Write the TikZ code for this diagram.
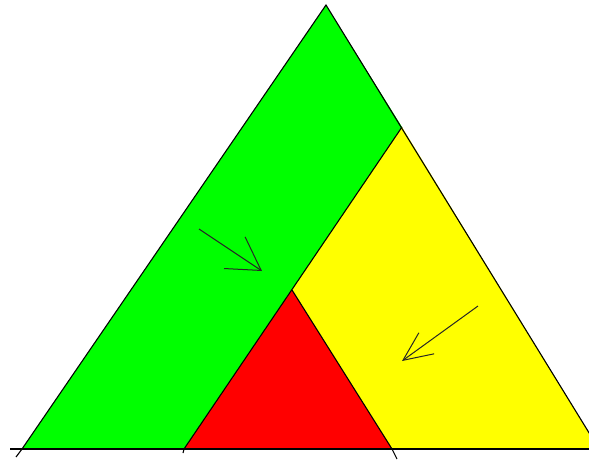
\documentclass[tikz,border=0pt]{standalone}
\usetikzlibrary{arrows.meta}
\definecolor{stripgreen}{RGB}{0,255,0}
\definecolor{stripyellow}{RGB}{255,255,0}
\definecolor{cornerred}{RGB}{255,0,0}
\tikzset{
 edge/.style={draw=black,line width=1.1pt},
 pointer/.style={draw=black!85,line width=1pt},
 bigtip/.style={-{Straight Barb[length=32pt,width=38pt]}},
 smalltip/.style={-{Straight Barb[length=29pt,width=26pt]}}}
\begin{document}
\begin{tikzpicture}[x=1pt,y=-1pt]
\useasboundingbox (0,0) rectangle (589,459);
\clip (0,0) rectangle (589,459);
% corners of the big triangle and the cuts
\coordinate (apex) at (326,5);
\coordinate (left) at (22,449);
\coordinate (right) at (599,449);
\coordinate (cut) at (402,127);
\coordinate (mid) at (184,449);
\coordinate (top) at (292,290);
\coordinate (foot) at (392,449);
% regions
\fill[stripgreen] (apex) -- (left) -- (mid) -- (top) -- (cut) -- cycle;
\fill[stripyellow] (cut) -- (right) -- (foot) -- (top) -- cycle;
\fill[cornerred] (top) -- (mid) -- (foot) -- cycle;
% outlines
\draw[edge] (left) -- (apex) -- (right);
\draw[edge] (cut) -- (mid);
\draw[edge] (top) -- (foot);
\coordinate (baseend) at (10,449);
\draw[edge] (baseend) -- (right);
% small ticks under the base
\coordinate (ltick) at (16,457);
\coordinate (mtick) at (183,453);
\coordinate (ftick) at (397,459);
\draw[edge] (left) -- (ltick);
\draw[edge] (mid) -- (mtick);
\draw[edge] (foot) -- (ftick);
% arrows
\coordinate (gtail) at (199,229);
\coordinate (ghead) at (262,271);
\coordinate (ytail) at (478,306);
\coordinate (yhead) at (402,361);
\draw[pointer,bigtip] (gtail) -- (ghead);
\draw[pointer,smalltip] (ytail) -- (yhead);
\end{tikzpicture}
\end{document}
